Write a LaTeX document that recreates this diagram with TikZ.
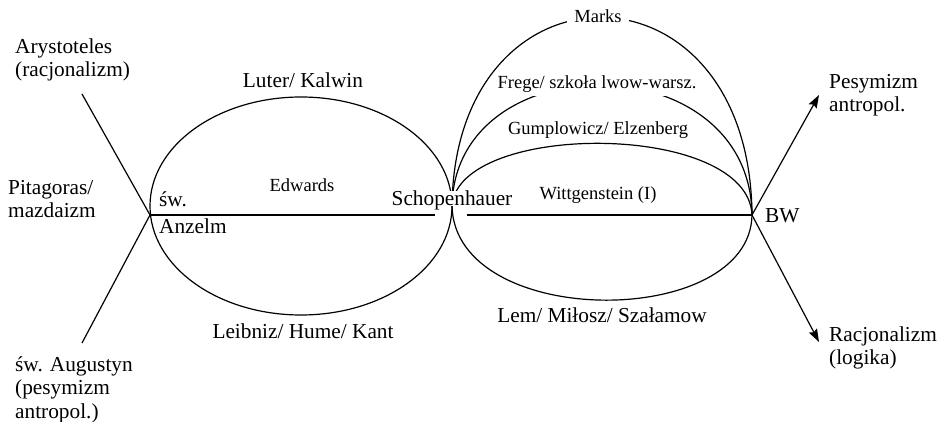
\documentclass[tikz,border=0pt]{standalone}
\usepackage{fontspec}
\setmainfont{Liberation Serif}
\usetikzlibrary{arrows.meta}
\begin{document}
\begin{tikzpicture}[x=1pt,y=-1pt,
  line/.style={line width=1.2pt},
  big/.style={font=\fontsize{21.3}{23.3}\selectfont, inner sep=0pt},
  small/.style={font=\fontsize{18.5}{22}\selectfont, inner sep=0pt},
  arr/.style={line width=1.2pt, -{Stealth[length=13pt,width=9pt,inset=2pt]}},
  lbl/.style={fill=white, inner xsep=7pt, inner ysep=3pt},
  multi/.style={align=left, anchor=base west}]
\useasboundingbox (0,0) rectangle (938,422);
% key points
\coordinate (A) at (150,215);
\coordinate (S) at (452,206);
\coordinate (BW) at (752,215);
\coordinate (L1) at (82,94);
\coordinate (L2) at (82,343);
\coordinate (R1) at (819,95);
\coordinate (R2) at (819,342);
\coordinate (Sl) at (435,215);
\coordinate (Sr) at (467,215);
\coordinate (E) at (301,206);
% left lines and ellipse
\draw[line] (L1) -- (A) -- (L2);
\draw[line] (E) ellipse [x radius=151pt, y radius=109pt];
\draw[line] (A) -- (Sl);
\draw[line] (Sr) -- (BW);
% right arcs
\draw[line] (S) .. controls (455,-47) and (750,-47) .. (BW);
\draw[line] (S) .. controls (455,43) and (750,43) .. (BW);
\draw[line] (S) .. controls (458,121) and (748,121) .. (BW);
\draw[line] (S) .. controls (455,330) and (750,330) .. (BW);
% arrows
\draw[arr] (BW) -- (R1);
\draw[arr] (BW) -- (R2);
% labels
\node[small, lbl, anchor=base] (marks) at (598,23) {Marks};
\node[small, fill=white, inner xsep=2pt, inner ysep=3pt, anchor=base] (frege) at (597,89) {Frege/ szkoła lwow-warsz.};
\node[small, anchor=base] (gump) at (598,135) {Gumplowicz/ Elzenberg};
\node[small, anchor=base] (witt) at (598,200) {Wittgenstein (I)};
\node[big, anchor=base] (lem) at (602,323) {Lem/ Miłosz/ Szałamow};
\node[big, fill=white, text depth=0pt, anchor=base] (schop) at (452,206) {Schopenhauer};
\node[big, anchor=base west] (bwl) at (765,223) {BW};
\node[big, anchor=base] (luter) at (303,88) {Luter/ Kalwin};
\node[small, anchor=base] (edw) at (302,192) {Edwards};
\node[big, anchor=base west] (sw) at (159,207) {św.};
\node[big, anchor=base west] (anz) at (159,234) {Anzelm};
\node[big, anchor=base] (leib) at (303,338) {Leibniz/ Hume/ Kant};
\node[big, multi] (ary) at (15,77) {Arystoteles\\(racjonalizm)};
\node[big, multi] (pit) at (8,218) {Pitagoras/\\mazdaizm};
\node[big, multi] (aug) at (15,418) {św. Augustyn\\(pesymizm\\antropol.)};
\node[big, multi] (pes) at (829,112) {Pesymizm\\antropol.};
\node[big, multi] (rac) at (829,365) {Racjonalizm\\(logika)};
\end{tikzpicture}
\end{document}
